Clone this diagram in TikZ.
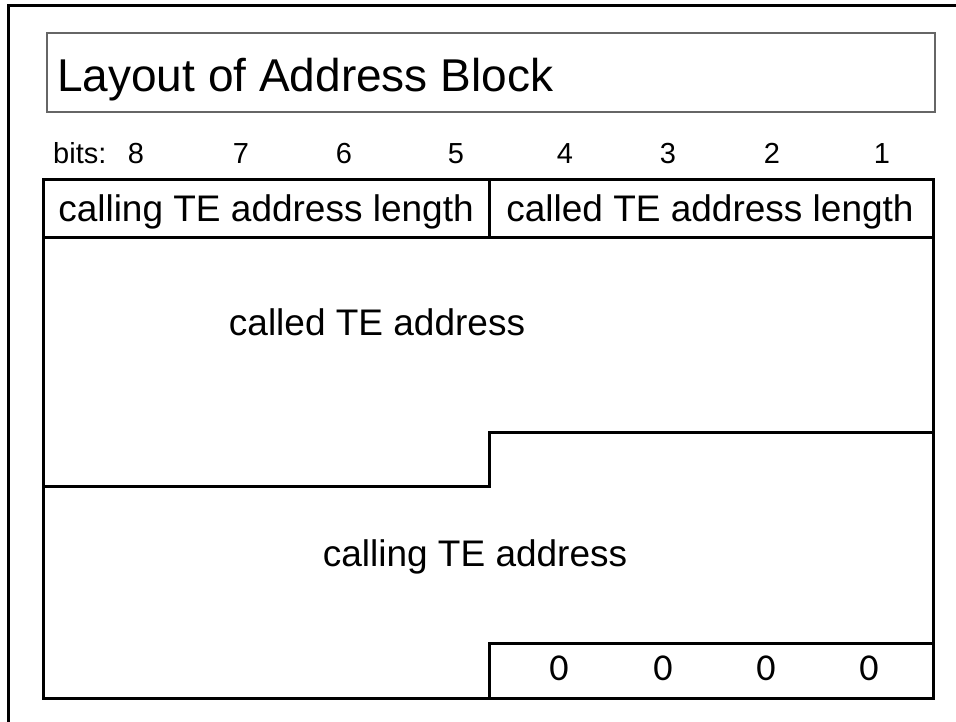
\documentclass[tikz,border=0pt]{standalone}
\usepackage{fontspec}
\setmainfont{Liberation Sans}
\newfontfamily\zerofont{Carlito}
\usetikzlibrary{calc}

\tikzset{
  frameline/.style={line width=3pt},
  fieldline/.style={line width=3pt, line join=miter},
  titlebox/.style={draw=black!60, line width=1.2pt},
  bitnum/.style={inner sep=0pt, anchor=base, font=\fontsize{29}{32}\selectfont},
  fieldtext/.style={inner sep=0pt, anchor=base, font=\fontsize{37}{40}\selectfont},
  zerotext/.style={inner sep=0pt, anchor=base, font=\zerofont\fontsize{38}{40}\selectfont}
}

\begin{document}
\begin{tikzpicture}[x=1pt, y=-1pt]
	\useasboundingbox (0,0) rectangle (956,721);
	% outer frame
	\draw[frameline] (8,730) -- (8,5) -- (965,5);
	% title
	\draw[titlebox] (47,33) rectangle (935,112);
	\node[inner sep=0pt, anchor=base west, font=\fontsize{46}{50}\selectfont] (title) at (57,91) {Layout of Address Block};
	% bit numbers
	\node[bitnum, anchor=base west] (bits) at (53,163) {bits:};
	\foreach \x/\xtext in { 136/8, 241/7, 344/6, 456/5, 565/4, 668/3, 772/2, 882/1 }
		\node[bitnum] (bit\xtext) at (\x,163) {\xtext};
	% fields
	\draw[fieldline] (43,179) rectangle (933,698);
	\draw[fieldline] (43,237) -- (933,237);
	\draw[fieldline] (489,179) -- (489,237);
	\draw[fieldline] (43,486) -- (489,486) -- (489,432) -- (933,432);
	\draw[fieldline] (489,698) -- (489,643) -- (933,643);
	\node[fieldtext] (callinglen) at (266,221) {calling TE address length};
	\node[fieldtext] (calledlen) at (710,221) {called TE address length};
	\node[fieldtext] (calledaddr) at (377,335) {called TE address};
	\node[fieldtext] (callingaddr) at (475,566) {calling TE address};
	\foreach \x/\n in { 559/4, 663/3, 766/2, 869/1 }
		\node[zerotext] (zero\n) at (\x,680) {0};
\end{tikzpicture}
\end{document}
